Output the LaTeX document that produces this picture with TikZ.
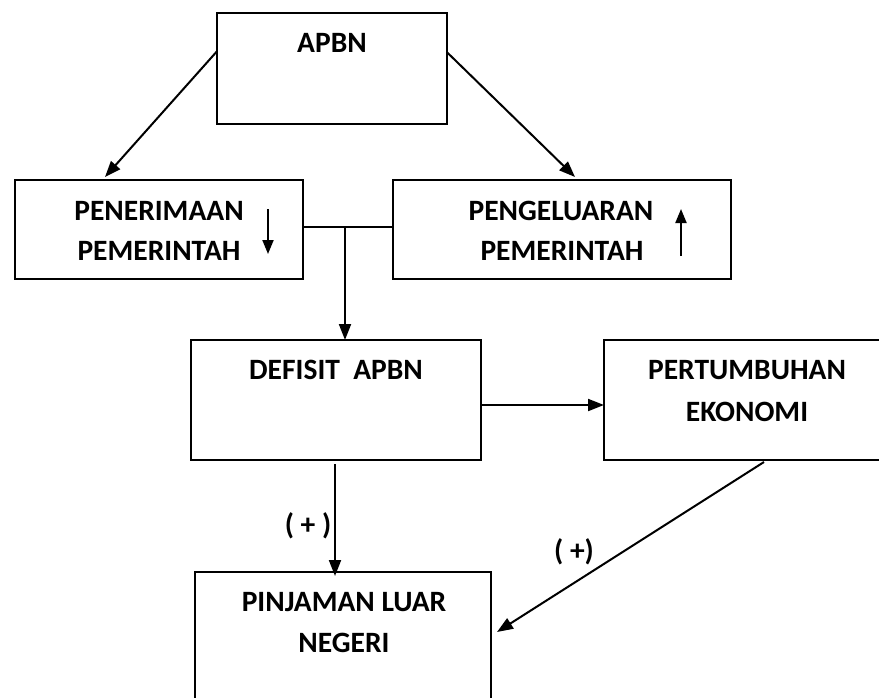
\documentclass[tikz,border=0pt]{standalone}
\usepackage{fontspec}
\setmainfont{Carlito}
\usetikzlibrary{arrows.meta,calc}
\begin{document}
\begin{tikzpicture}[x=1pt,y=-1pt,
  box/.style={draw=black,line width=2pt,rectangle,inner sep=0pt,outer sep=0pt},
  lbl/.style={inner sep=0pt,font=\fontsize{29.5}{34}\selectfont\bfseries},
  arr/.style={line width=2pt,-{Triangle[length=16pt,width=12pt]}},
  conn/.style={line width=2pt},
  small/.style={line width=2pt,-{Triangle[length=14pt,width=11pt]}}]
\useasboundingbox (0,0) rectangle (879,697);
% boxes
\node[box,minimum width=230pt,minimum height=111.5pt] (apbn) at (332,68.25) {};
\node[box,minimum width=288pt,minimum height=99pt] (pen) at (159,229.5) {};
\node[box,minimum width=338pt,minimum height=99pt] (peng) at (562,229.5) {};
\node[box,minimum width=290pt,minimum height=120pt] (def) at (336,400) {};
\node[box,minimum width=316pt,minimum height=120pt] (pert) at (762,400) {};
\node[box,minimum width=296pt,minimum height=188pt] (pinj) at (343,666) {};
% texts
\node[lbl] (tapbn) at (332,43) {APBN};
\node[lbl] (tpen1) at (159,211) {PENERIMAAN};
\node[lbl] (tpen2) at (159,251) {PEMERINTAH};
\node[lbl] (tpeng1) at (561,211) {PENGELUARAN};
\node[lbl] (tpeng2) at (562,251) {PEMERINTAH};
\node[lbl] (tdef) at (336,370) {DEFISIT\ \ APBN};
\node[lbl] (tpert1) at (747,370) {PERTUMBUHAN};
\node[lbl] (tpert2) at (747,412) {EKONOMI};
\node[lbl] (tpinj1) at (344,602) {PINJAMAN LUAR};
\node[lbl] (tpinj2) at (344,643) {NEGERI};
\node[lbl] (plus1) at (308,526) {( + )};
\node[lbl] (plus2) at (574,552) {( +)};
% small indicator arrows
\draw[small] (268,209) -- (268,254);
\draw[small] (681,256) -- (681,209);
% connectors
\draw[arr] ([shift={(0,-17)}]apbn.west) -- ([shift={(-54,-3)}]pen.north);
\draw[arr] ([shift={(0,-16)}]apbn.east) -- ([shift={(13,-3)}]peng.north);
\draw[conn] ([shift={(0,-2.5)}]pen.east) -- ([shift={(0,-2.5)}]peng.west);
\coordinate (j) at (345,227);
\draw[arr] (j) -- (j |- def.north);
\draw[arr] ([shift={(0,5)}]def.east) -- ([shift={(0,5)}]def.east -| pert.west);
\draw[arr] ([shift={(-1,4)}]def.south) -- ([shift={(-1,4)}]def.south |- pinj.north);
\draw[arr] ([shift={(2,2)}]pert.south) -- ([shift={(6,-34)}]pinj.east);
\end{tikzpicture}
\end{document}
